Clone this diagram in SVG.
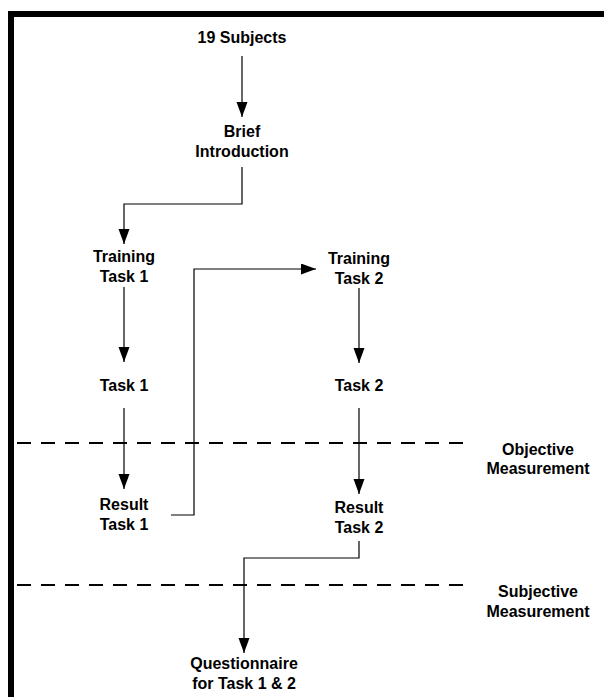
<svg xmlns="http://www.w3.org/2000/svg" width="604" height="697" viewBox="0 0 604 697">
<style>
text{font-family:"Liberation Sans",Arial,sans-serif;font-weight:bold;font-size:16px;fill:#000;text-anchor:middle}
.c{fill:none;stroke:#000;stroke-width:1.2}
.d{fill:none;stroke:#000;stroke-width:2;stroke-dasharray:14 10}
</style>
<defs>
<marker id="ah" markerUnits="userSpaceOnUse" markerWidth="16" markerHeight="12" refX="15" refY="5.5" orient="auto">
<path d="M0,0 L15,5.5 L0,11 z" fill="#000"/>
</marker>
</defs>
<rect width="604" height="697" fill="#fff"/>
<g id="frame">
<rect x="8" y="11" width="596" height="6" fill="#000"/>
<rect x="8" y="11" width="6" height="686" fill="#000"/>
</g>
<g id="separators">
<line class="d" x1="17" y1="443" x2="463" y2="443"/>
<line class="d" x1="17" y1="585" x2="463" y2="585"/>
</g>
<g id="connectors">
<line class="c" x1="242" y1="56" x2="242" y2="117" marker-end="url(#ah)"/>
<path class="c" d="M242,167 V204 H124 V244" marker-end="url(#ah)"/>
<line class="c" x1="124" y1="287" x2="124" y2="362" marker-end="url(#ah)"/>
<line class="c" x1="124" y1="408" x2="124" y2="489" marker-end="url(#ah)"/>
<path class="c" d="M171,515 H194 V269 H316" marker-end="url(#ah)"/>
<line class="c" x1="359" y1="288" x2="359" y2="363" marker-end="url(#ah)"/>
<line class="c" x1="359" y1="408" x2="359" y2="494" marker-end="url(#ah)"/>
<path class="c" d="M359,541 V558 H244 V653" marker-end="url(#ah)"/>
</g>
<g id="subjects"><text x="242" y="43">19 Subjects</text></g>
<g id="intro"><text x="242" y="137">Brief</text><text x="242" y="157">Introduction</text></g>
<g id="training1"><text x="124" y="262">Training</text><text x="124" y="282">Task 1</text></g>
<g id="training2"><text x="359" y="264">Training</text><text x="359" y="284">Task 2</text></g>
<g id="task1"><text x="124" y="391">Task 1</text></g>
<g id="task2"><text x="359" y="391">Task 2</text></g>
<g id="result1"><text x="124" y="510">Result</text><text x="124" y="530">Task 1</text></g>
<g id="result2"><text x="359" y="513">Result</text><text x="359" y="533">Task 2</text></g>
<g id="questionnaire"><text x="244" y="669">Questionnaire</text><text x="244" y="689">for Task 1 &amp; 2</text></g>
<g id="objective"><text x="538" y="455">Objective</text><text x="538" y="474">Measurement</text></g>
<g id="subjective"><text x="538" y="597">Subjective</text><text x="538" y="617">Measurement</text></g>
</svg>
